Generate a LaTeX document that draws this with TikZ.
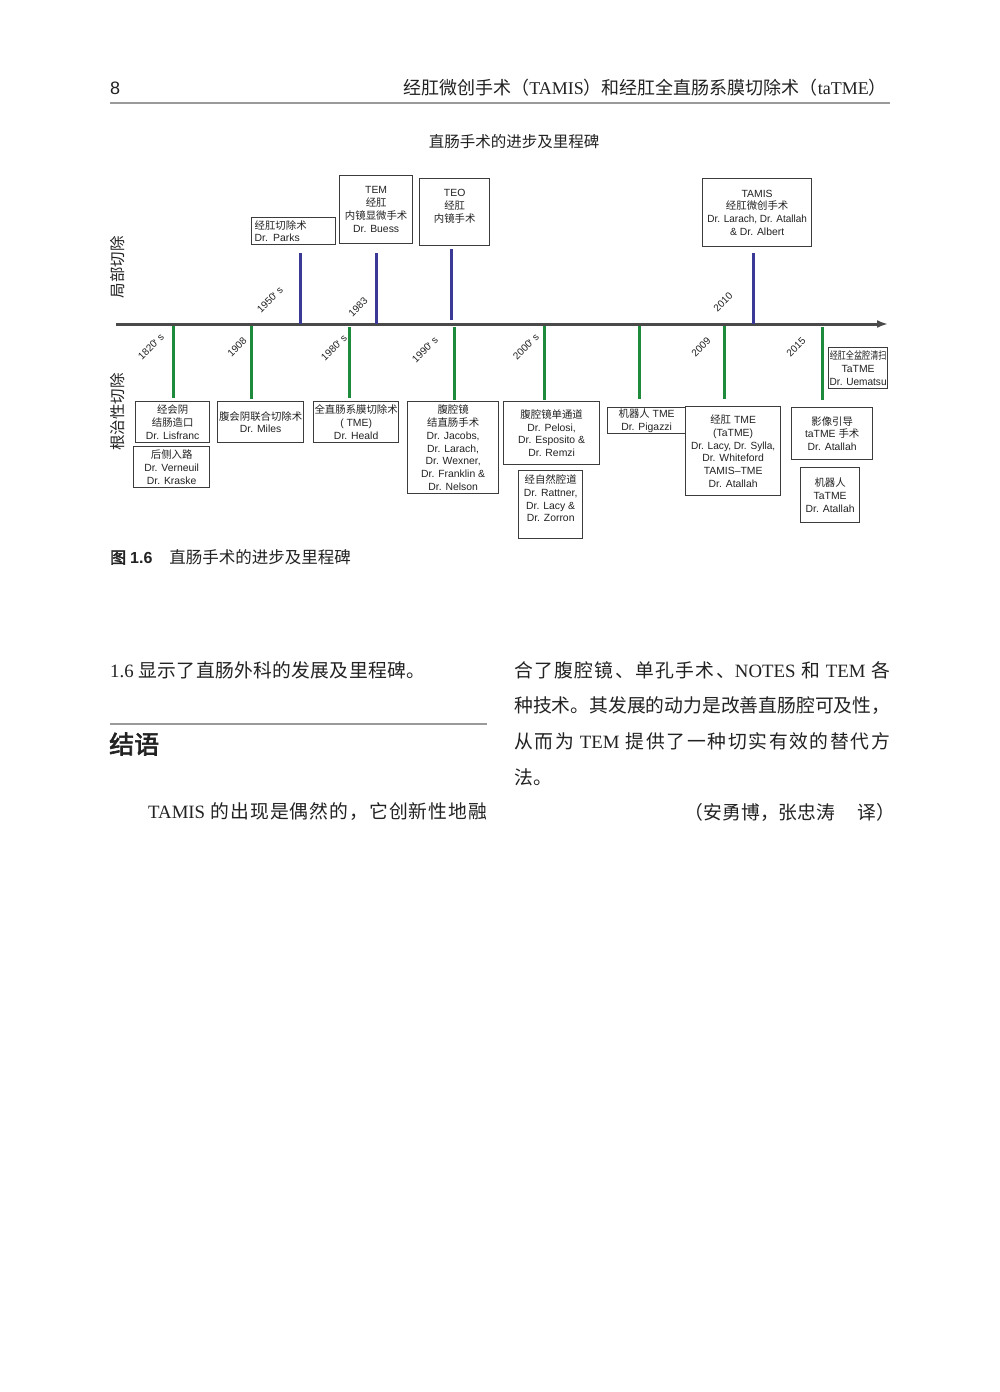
\documentclass[tikz,border=0pt]{standalone}
\usepackage{fontspec}
\usepackage{graphicx}
\usetikzlibrary{arrows.meta}
\setmainfont{Liberation Serif}
\newfontfamily\zhf{Noto Sans CJK SC}
\newfontfamily\zhbf[FakeBold=2.5]{Noto Sans CJK SC}
\newfontfamily\arialf{Liberation Sans}
\newcommand\zh[1]{{\zhf #1}}
\newcommand\zhb[1]{{\zhbf #1}}
% stretchable glue between CJK characters (for justified body lines)
\newXeTeXintercharclass\cjkcls
\newcount\cjkc
\cjkc="4E00 \loop \XeTeXcharclass\cjkc=\cjkcls \advance\cjkc by 1 \ifnum\cjkc<"A000 \repeat
\cjkc="3000 \loop \XeTeXcharclass\cjkc=\cjkcls \advance\cjkc by 1 \ifnum\cjkc<"3040 \repeat
\cjkc="FF00 \loop \XeTeXcharclass\cjkc=\cjkcls \advance\cjkc by 1 \ifnum\cjkc<"FFF0 \repeat
\XeTeXinterchartoks\cjkcls\cjkcls={\hskip0pt plus 3pt\relax}
\XeTeXinterchartokenstate=1
\definecolor{boxc}{HTML}{3C3C3C}
\definecolor{bluec}{HTML}{3A3A96}
\definecolor{greenc}{HTML}{1E8A3C}
\definecolor{axisc}{HTML}{4A4A4A}
\definecolor{rulec}{HTML}{9A9A9A}
\definecolor{txtc}{HTML}{222222}
\tikzset{
  box/.style={draw=boxc, line width=1.3pt, inner sep=0pt, align=center, anchor=north west, text=txtc,
    font=\arialf\fontsize{10.4}{12.8}\selectfont},
  yr/.style={rotate=45, font=\arialf\fontsize{10}{10}\selectfont, inner sep=0pt, text=txtc},
  ltick/.style={line width=3pt, draw=bluec},
  rtick/.style={line width=3pt, draw=greenc},
  grule/.style={line width=2.8pt, draw=rulec},
  body/.style={inner sep=0pt, anchor=west, text=txtc, font=\fontsize{18.8}{18.8}\selectfont},
  side/.style={rotate=90, inner sep=0pt, text=txtc, font=\zhf\fontsize{15.5}{15.5}\selectfont},
}
\begin{document}
\begin{tikzpicture}[x=1pt,y=-1pt]
\fill[white] (0,0) rectangle (1000,1392);
\useasboundingbox (0,0) rectangle (1000,1392);

% header
\node[anchor=west, inner sep=0pt, text=txtc, font=\arialf\fontsize{18}{18}\selectfont] (pn) at (110,88) {8};
\node[anchor=east, inner sep=0pt, text=txtc, font=\fontsize{18}{18}\selectfont] (ht) at (887,88)
  {\zh{经肛微创手术（}TAMIS\zh{）和经肛全直肠系膜切除术（}taTME\zh{）}};
\draw[grule] (110,103) -- (890,103);

% title
\node[inner sep=0pt, text=txtc, font=\zhf\fontsize{15.5}{15.5}\selectfont] (title) at (514,142) {直肠手术的进步及里程碑};

% side labels
\node[side] (loc) at (118,267) {局部切除};
\node[side] (rad) at (118,412) {根治性切除};

% axis
\coordinate (axL) at (116,324);
\coordinate (axR) at (888,324);
\draw[line width=3pt, draw=axisc, -{Latex[length=11pt,width=8pt]}] (axL) -- (axR);

% upper boxes
\node[box, minimum width=84pt, minimum height=27pt, text width=78pt, align=left, inner xsep=3pt] (parks) at (251,217)
  {\zh{经肛切除术}\\Dr. Parks};
\node[box, minimum width=73pt, minimum height=68pt] (tem) at (339,175)
  {TEM\\\zh{经肛}\\\zh{内镜显微手术}\\Dr. Buess};
\node[box, minimum width=70pt, minimum height=67pt] (teo) at (419,178)
  {TEO\\\zh{经肛}\\\zh{内镜手术}\\ ~};
\node[box, minimum width=109pt, minimum height=68pt] (tamis) at (702,178)
  {TAMIS\\\zh{经肛微创手术}\\\scalebox{0.96}[1]{Dr. Larach, Dr. Atallah}\\\& Dr. Albert};

% upper ticks
\coordinate (u1) at (300,324);
\coordinate (u2) at (376,324);
\coordinate (u3) at (451,324);
\coordinate (u4) at (753,324);
\draw[ltick, shorten >=8pt] (u1) -- (u1 |- parks.south);
\draw[ltick, shorten >=9pt] (u2) -- (u2 |- tem.south);
\draw[ltick, shorten >=3pt, shorten <=4pt] (u3) -- (u3 |- teo.south);
\draw[ltick, shorten >=6pt] (u4) -- (u4 |- tamis.south);

% upper year labels
\node[yr] (y1950) at (270,300) {1950' s};
\node[yr] (y1983) at (358,307) {1983};
\node[yr] (y2010) at (723,302) {2010};

% lower year labels
\node[yr] (y1820) at (151,347) {1820' s};
\node[yr] (y1908) at (237,347) {1908};
\node[yr] (y1980) at (334,348) {1980' s};
\node[yr] (y1990) at (425,350) {1990' s};
\node[yr] (y2000) at (526,347) {2000' s};
\node[yr] (y2009) at (701,347) {2009};
\node[yr] (y2015) at (796,347) {2015};

% lower boxes
\node[box, minimum width=74pt, minimum height=41pt] (lis) at (135,401)
  {\zh{经会阴}\\\zh{结肠造口}\\Dr. Lisfranc};
\node[box, minimum width=76pt, minimum height=41pt] (ver) at (133,446)
  {\zh{后侧入路}\\Dr. Verneuil\\Dr. Kraske};
\node[box, minimum width=86pt, minimum height=41pt] (miles) at (217,401)
  {\zh{腹会阴联合切除术}\\Dr. Miles};
\node[box, minimum width=85pt, minimum height=41pt] (heald) at (313,401)
  {\zh{全直肠系膜切除术}\\( TME)\\Dr. Heald};
\node[box, minimum width=91pt, minimum height=92pt] (jacobs) at (407,401)
  {\zh{腹腔镜}\\\zh{结直肠手术}\\Dr. Jacobs,\\Dr. Larach,\\Dr. Wexner,\\Dr. Franklin \&\\Dr. Nelson};
\node[box, minimum width=96pt, minimum height=63pt] (pelosi) at (503,401)
  {\zh{腹腔镜单通道}\\Dr. Pelosi,\\Dr. Esposito \&\\Dr. Remzi};
\node[box, minimum width=64pt, minimum height=68pt] (rattner) at (518,470)
  {\zh{经自然腔道}\\Dr. Rattner,\\Dr. Lacy \&\\Dr. Zorron\\ ~};
\node[box, minimum width=78pt, minimum height=26pt] (pigazzi) at (607,407)
  {\zh{机器人} TME\\Dr. Pigazzi};
\node[box, minimum width=95pt, minimum height=89pt] (tatme) at (685,406)
  {\zh{经肛} TME\\(TaTME)\\\scalebox{0.97}[1]{Dr. Lacy, Dr. Sylla,}\\Dr. Whiteford\\TAMIS\textendash TME\\Dr. Atallah};
\node[box, minimum width=81pt, minimum height=52pt] (yx) at (791,407)
  {\zh{影像引导}\\taTME \zh{手术}\\Dr. Atallah};
\node[box, minimum width=59pt, minimum height=55pt] (robo) at (800,467)
  {\zh{机器人}\\TaTME\\Dr. Atallah};
\node[box, minimum width=59pt, minimum height=41pt] (uem) at (828,347)
  {\scalebox{0.78}[1]{\zh{经肛全盆腔清扫}}\\TaTME\\\scalebox{0.97}[1]{Dr. Uematsu}};

% lower ticks
\coordinate (g1) at (173,324);
\coordinate (g2) at (251,324);
\coordinate (g3) at (349,324);
\coordinate (g4) at (454,324);
\coordinate (g5) at (544,324);
\coordinate (g6) at (639,324);
\coordinate (g7) at (724,324);
\coordinate (g8) at (822,324);
\draw[rtick, shorten <=2pt, shorten >=3pt] (g1) -- (g1 |- lis.north);
\draw[rtick, shorten <=2pt, shorten >=2pt] (g2) -- (g2 |- miles.north);
\draw[rtick, shorten <=3pt, shorten >=3pt] (g3) -- (g3 |- heald.north);
\draw[rtick, shorten <=3pt, shorten >=1pt] (g4) -- (g4 |- jacobs.north);
\draw[rtick, shorten <=2pt, shorten >=1pt] (g5) -- (g5 |- pelosi.north);
\draw[rtick, shorten <=2pt, shorten >=8pt] (g6) -- (g6 |- pigazzi.north);
\draw[rtick, shorten <=2pt, shorten >=7pt] (g7) -- (g7 |- tatme.north);
\draw[rtick, shorten <=3pt, shorten >=7pt] (g8) -- (g8 |- yx.north);

% caption
\node[anchor=west, inner sep=0pt, text=txtc, font=\fontsize{16}{16}\selectfont] (cap) at (110,557)
  {\zhb{图}\hspace{4pt}{\arialf\bfseries 1.6}\hspace{17pt}{\fontsize{16.5}{16.5}\selectfont\zh{直肠手术的进步及里程碑}}};

% body text, left column
\node[body] (p1) at (110,670) {\makebox[315pt][s]{1.6 \zh{显示了直肠外科的发展及里程碑。}}};
\draw[grule] (110,724) -- (487,724);
\node[anchor=west, inner sep=0pt, text=txtc, font=\zhbf\fontsize{25}{25}\selectfont] (concl) at (109,744) {结语};
\node[body] (p2) at (148,812) {\makebox[339pt][s]{TAMIS \zh{的出现是偶然的，它创新性地融}}};

% body text, right column
\node[body] (r1) at (514,670) {\makebox[376pt][s]{\zh{合了腹腔镜、单孔手术、}NOTES \zh{和} TEM \zh{各}}};
\node[body] (r2) at (514,706) {\makebox[376pt][s]{\zh{种技术。其发展的动力是改善直肠腔可及性，}}};
\node[body] (r3) at (514,741) {\makebox[376pt][s]{\zh{从而为} TEM \zh{提供了一种切实有效的替代方}}};
\node[body] (r4) at (514,777) {\zh{法。}};
\node[body, anchor=east] (tr) at (888,812) {\makebox[203pt][s]{\zh{（安勇博，张忠涛}\hspace{22pt}\zh{译）}}};
\end{tikzpicture}
\end{document}
